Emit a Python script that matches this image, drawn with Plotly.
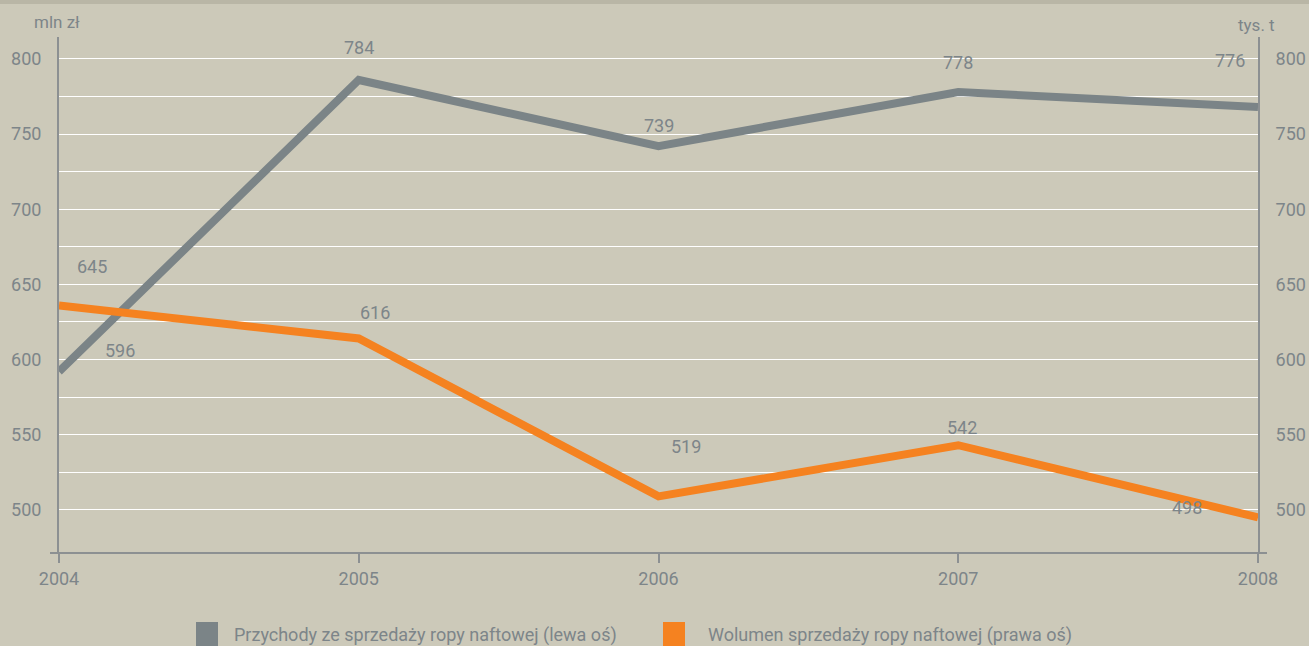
import plotly.graph_objects as go

years = [2004, 2005, 2006, 2007, 2008]
revenue_line = [592, 786, 742, 778, 768]      # mln zł (left axis), as drawn
revenue_labels = ["596", "784", "739", "778", "776"]
volume_line = [636, 614, 509, 543, 495]       # tys. t (right axis), as drawn
volume_labels = ["645", "616", "519", "542", "498"]
y_ticks = [500, 550, 600, 650, 700, 750, 800]
y_minor = [525, 575, 625, 675, 725, 775]
legend_names = ["Przychody ze sprzedaży ropy naftowej (lewa oś)",
                "Wolumen sprzedaży ropy naftowej (prawa oś)"]

GRAY = "#7b8487"
ORANGE = "#f58220"
TXT = "#7d8589"
BG = "#ccc9b9"
AX = "#8c9092"
FONT = "Roboto"

W, H = 1309, 646
L, R, T, B = 59, 51, 37, 93
PW, PH = W - L - R, H - T - B
yr = [471.3, 814.6]


def px(x):
    return (x - L) / PW


def py(y):
    return (H - B - y) / PH


fig = go.Figure()
fig.add_trace(go.Scatter(x=years, y=revenue_line, mode="lines", yaxis="y",
                         line=dict(color=GRAY, width=8), showlegend=False,
                         name=legend_names[0]))
fig.add_trace(go.Scatter(x=years, y=volume_line, mode="lines", yaxis="y2",
                         line=dict(color=ORANGE, width=8), showlegend=False,
                         name=legend_names[1]))

ann = []
rev_off = [(61, 21), (0, 32), (0, 21), (0, 30), (-28, 47)]
vol_off = [(33, 39), (16, 26), (27, 50), (4, 18), (-71, 10)]
lab_font = dict(family=FONT, size=18, color=TXT)
for x, y, t, (dx, dy) in zip(years, revenue_line, revenue_labels, rev_off):
    ann.append(dict(x=x, y=y, xref="x", yref="y", text=t, showarrow=False,
                    xanchor="center", yanchor="middle",
                    xshift=dx, yshift=dy, font=lab_font))
for x, y, t, (dx, dy) in zip(years, volume_line, volume_labels, vol_off):
    ann.append(dict(x=x, y=y, xref="x", yref="y2", text=t, showarrow=False,
                    xanchor="center", yanchor="middle",
                    xshift=dx, yshift=dy, font=lab_font))

ann.append(dict(x=px(57), y=py(22), xref="paper", yref="paper", text="mln zł",
                showarrow=False, xanchor="center", yanchor="middle",
                font=dict(family=FONT, size=17, color=TXT)))
ann.append(dict(x=px(1256), y=py(25), xref="paper", yref="paper", text="tys. t",
                showarrow=False, xanchor="center", yanchor="middle",
                font=dict(family=FONT, size=17, color=TXT)))

shapes = []
# top band
shapes.append(dict(type="rect", xref="paper", yref="paper", x0=px(0), x1=px(W),
                   y0=py(0), y1=py(4), fillcolor="#b9b6a6", line=dict(width=0), layer="below"))
# extended x axis line
shapes.append(dict(type="line", xref="paper", yref="paper", x0=px(50), x1=px(1267),
                   y0=0, y1=0, line=dict(color=AX, width=2)))

# manual legend
leg_sq = [(196, GRAY), (663, ORANGE)]
leg_tx = [232, 706]
for (sx, c), tx, name in zip(leg_sq, leg_tx, legend_names):
    shapes.append(dict(type="rect", xref="paper", yref="paper",
                       x0=px(sx), x1=px(sx + 22), y0=py(622), y1=py(650),
                       fillcolor=c, line=dict(width=0)))
    ann.append(dict(x=px(tx), y=py(635), xref="paper", yref="paper", text=name,
                    showarrow=False, xanchor="left", yanchor="middle",
                    font=dict(family=FONT, size=18, color=TXT)))

axis_font = dict(family=FONT, size=18, color=TXT)
fig.update_layout(
    width=W, height=H,
    margin=dict(l=L, r=R, t=T, b=B, pad=0, autoexpand=False),
    paper_bgcolor=BG, plot_bgcolor=BG,
    showlegend=False,
    xaxis=dict(range=[2004, 2008], tickvals=years, ticktext=[str(y) for y in years],
               showgrid=False, zeroline=False, showline=False, automargin=False,
               ticks="outside", ticklen=9, tickwidth=2, tickcolor=AX,
               tickfont=axis_font),
    yaxis=dict(range=yr, tickvals=y_ticks, showgrid=True, gridcolor="white", gridwidth=1,
               minor=dict(tickvals=y_minor, showgrid=True, gridcolor="white", gridwidth=1),
               zeroline=False, showline=True, linecolor=AX, linewidth=2, automargin=False,
               ticks="", ticklabelstandoff=12, tickfont=axis_font),
    yaxis2=dict(range=yr, tickvals=y_ticks, overlaying="y", side="right",
                showgrid=False, zeroline=False, showline=True, linecolor=AX, linewidth=2,
                automargin=False, ticks="", ticklabelstandoff=12, tickfont=axis_font),
    annotations=ann, shapes=shapes,
)

fig.write_html("out.html", config={"displayModeBar": False},
               post_script="document.body.style.margin='0';document.body.style.padding='0';")
